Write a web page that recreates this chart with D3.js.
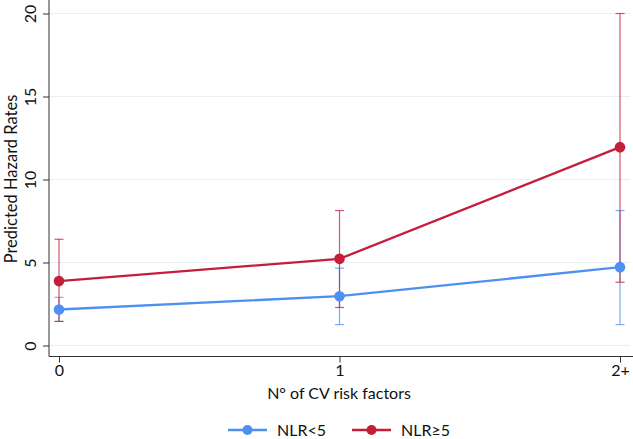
<!DOCTYPE html>
<html lang="en">
<head>
    <meta charset="UTF-8">
    <title>Predicted Hazard Rates</title>
    <script src="https://d3js.org/d3.v7.min.js"></script>
    <style>
        body { margin: 0; background: white; }
        text { font-family: Lato, "Open Sans", sans-serif; fill: #111; }
    </style>
</head>
<body>
    <script>
        // categories on the x axis
        var categories = ["0", "1", "2+"];
        var seriesNames = ["NLR<5", "NLR\u22655"];
        var colors = ["#4d90f2", "#c41e3a"];

        // point estimates and confidence limits
        var lowNLR = [2.17, 2.97, 4.72];
        var lowNLRLower = [1.45, 1.26, 1.26];
        var lowNLRUpper = [2.9, 4.66, 8.13];

        var highNLR = [3.88, 5.22, 11.95];
        var highNLRLower = [1.45, 2.29, 3.81];
        var highNLRUpper = [6.4, 8.13, 20.0];

        var yTicks = [0, 5, 10, 15, 20];

        var w = 633;
        var h = 439;
        var fontFam = "Lato, 'Open Sans', sans-serif";

        var series = [
            {name: seriesNames[0], color: colors[0], est: lowNLR, lo: lowNLRLower, hi: lowNLRUpper},
            {name: seriesNames[1], color: colors[1], est: highNLR, lo: highNLRLower, hi: highNLRUpper}
        ];

        var x = d3.scalePoint()
                  .domain(categories)
                  .range([59, 620]);

        var y = d3.scaleLinear()
                  .domain([0, 20])
                  .range([345.5, 13.5]);

        var svg = d3.select("body")
                    .append("svg")
                    .attr("width", w)
                    .attr("height", h)
                    .style("background", "white");

        // light gridlines
        svg.append("g")
           .selectAll("line")
           .data(yTicks)
           .join("line")
           .attr("x1", 49)
           .attr("x2", 630)
           .attr("y1", d => y(d))
           .attr("y2", d => y(d))
           .attr("stroke", "#e8f0f2")
           .attr("stroke-width", 1);

        // y axis
        var yAxis = svg.append("g")
                       .attr("transform", "translate(49,0)")
                       .call(d3.axisLeft(y).tickValues(yTicks).tickSize(6).tickSizeOuter(0));
        yAxis.select(".domain").attr("d", "M0,0V356.5").attr("stroke", "#333");
        yAxis.selectAll(".tick line").attr("stroke", "#333");
        yAxis.selectAll(".tick text")
             .attr("x", 0)
             .attr("dy", 0)
             .attr("transform", "translate(-13,0) rotate(-90)")
             .attr("text-anchor", "middle")
             .style("font-size", "16px")
             .style("font-family", fontFam)
             .attr("fill", "#111");

        // x axis
        var xAxis = svg.append("g")
                       .attr("transform", "translate(0,356.5)")
                       .call(d3.axisBottom(x).tickSize(6).tickSizeOuter(0));
        xAxis.select(".domain").attr("d", "M49,0H633").attr("stroke", "#333");
        xAxis.selectAll(".tick line").attr("stroke", "#333");
        xAxis.selectAll(".tick text")
             .attr("y", 8)
             .attr("dy", "0.71em")
             .style("font-size", "16px")
             .style("font-family", fontFam)
             .attr("fill", "#111");

        // axis titles
        svg.append("text")
           .attr("transform", "translate(17," + ((13.5 + 345.5) / 2 - 0.5) + ") rotate(-90)")
           .attr("text-anchor", "middle")
           .style("font-size", "16.5px")
           .text("Predicted Hazard Rates");

        svg.append("text")
           .attr("x", 339)
           .attr("y", 399)
           .attr("text-anchor", "middle")
           .style("font-size", "16px")
           .text("N\u00b0 of CV risk factors");

        // confidence intervals
        series.forEach(function(s) {
            var g = svg.append("g")
                       .attr("stroke", s.color)
                       .attr("stroke-opacity", 0.75)
                       .attr("stroke-width", 1.2);
            g.selectAll("line.ci")
             .data(categories)
             .join("line")
             .attr("class", "ci")
             .attr("x1", d => x(d))
             .attr("x2", d => x(d))
             .attr("y1", (d, i) => y(s.lo[i]))
             .attr("y2", (d, i) => y(s.hi[i]));
            g.selectAll("line.caplo")
             .data(categories)
             .join("line")
             .attr("class", "caplo")
             .attr("x1", d => x(d) - 4.5)
             .attr("x2", d => x(d) + 4.5)
             .attr("y1", (d, i) => y(s.lo[i]))
             .attr("y2", (d, i) => y(s.lo[i]));
            g.selectAll("line.caphi")
             .data(categories)
             .join("line")
             .attr("class", "caphi")
             .attr("x1", d => x(d) - 4.5)
             .attr("x2", d => x(d) + 4.5)
             .attr("y1", (d, i) => y(s.hi[i]))
             .attr("y2", (d, i) => y(s.hi[i]));
        });

        // lines and markers
        var line = d3.line()
                     .x((d, i) => x(categories[i]))
                     .y(d => y(d));

        series.forEach(function(s) {
            svg.append("path")
               .datum(s.est)
               .attr("d", line)
               .attr("fill", "none")
               .attr("stroke", s.color)
               .attr("stroke-width", 2.3);
        });
        series.forEach(function(s) {
            svg.append("g")
               .selectAll("circle")
               .data(s.est)
               .join("circle")
               .attr("cx", (d, i) => x(categories[i]))
               .attr("cy", d => y(d))
               .attr("r", 5.3)
               .attr("fill", s.color);
        });

        // legend
        var legendX = [228, 352];
        var legend = svg.append("g");
        series.forEach(function(s, i) {
            var lg = legend.append("g").attr("transform", "translate(" + legendX[i] + ",430)");
            lg.append("line")
              .attr("x1", 0).attr("x2", 39)
              .attr("y1", 0).attr("y2", 0)
              .attr("stroke", s.color)
              .attr("stroke-width", 2.3);
            lg.append("circle")
              .attr("cx", 19.5).attr("cy", 0).attr("r", 5)
              .attr("fill", s.color);
            lg.append("text")
              .attr("x", 49)
              .attr("y", 0)
              .attr("dy", "0.36em")
              .style("font-size", "16px")
              .text(s.name);
        });
    </script>
</body>
</html>
